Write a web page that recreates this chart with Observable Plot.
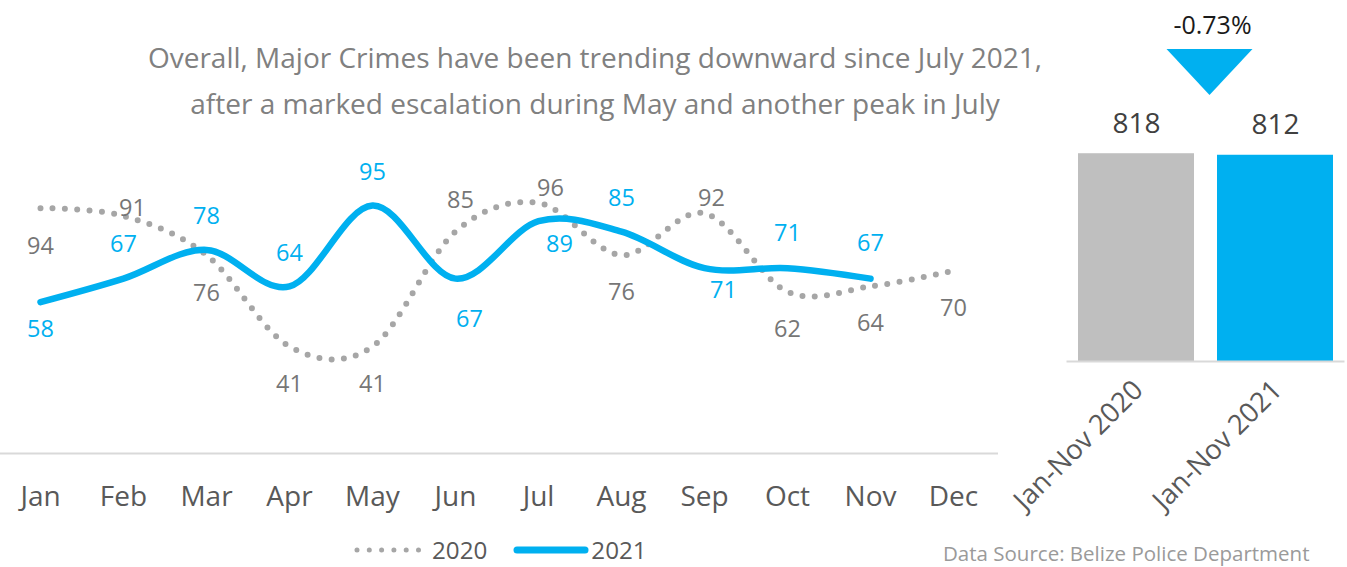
<!DOCTYPE html>
<html>
<head>
<meta charset="utf-8">
<script src="https://cdn.jsdelivr.net/npm/d3@7"></script>
<script src="https://cdn.jsdelivr.net/npm/@observablehq/plot@0.6"></script>
<style>
  body { margin: 0; background: #fff; }
  #wrap { position: relative; width: 1347px; height: 567px; overflow: hidden; font-family: "Open Sans", sans-serif; background:#fff; }
  .abs { position: absolute; }
  #title { left: 95px; width: 1000px; top: 34px; text-align: center; color: #808080; font-size: 28px; line-height: 46px; white-space: nowrap; }
  #legend { left: 352px; top: 537px; height: 26px; display: flex; align-items: center; color: #595959; font-size: 24.2px; line-height: 1; }
  #legend span { margin-right: 26px; }
  #source { left: 943px; top: 542px; color: #9a9a9a; font-size: 20.5px; line-height: 22px; white-space: nowrap; }
  #linechart { left: 0; top: 0; }
  #barchart { left: 1040px; top: 0; }
</style>
</head>
<body>
<div id="wrap">
  <div id="title" class="abs">Overall, Major Crimes have been trending downward since July 2021,<br>after a marked escalation during May and another peak in July</div>
  <div id="linechart" class="abs"></div>
  <div id="barchart" class="abs"></div>
  <div id="legend" class="abs"></div>
  <div id="source" class="abs">Data Source: Belize Police Department</div>
</div>
<script>
// ---- data ----
const months = ["Jan","Feb","Mar","Apr","May","Jun","Jul","Aug","Sep","Oct","Nov","Dec"];
const series2020 = [94, 91, 76, 41, 41, 85, 96, 76, 92, 62, 64, 70];
const series2021 = [58, 67, 78, 64, 95, 67, 89, 85, 71, 71, 67];
const seriesNames = ["2020", "2021"];
const barCategories = ["Jan-Nov 2020", "Jan-Nov 2021"];
const barTotals = [818, 812];

// label placement (styling)
const labelOffset2020 = [[0,38],[9,-8],[0,38],[0,38],[0,38],[5,-31],[12,-14],[0,37],[7,-15],[0,38],[0,37],[0,38]];
const labelOffset2021 = [[0,27],[0,-34],[0,-33],[0,-33],[0,-33],[14,41],[21,23],[0,-33],[19,22],[0,-35],[0,-35]];

const grey = "#a6a6a6", blue = "#00b0f0";
const font = "Open Sans";

const d2020 = series2020.map((v, i) => ({month: months[i], value: v, off: labelOffset2020[i]}));
const d2021 = series2021.map((v, i) => ({month: months[i], value: v, off: labelOffset2021[i]}));

const labelMarks = (data, fill) => data.map(d => Plot.text([d], {
  x: "month", y: "value", text: dd => String(dd.value),
  dx: d.off[0], dy: d.off[1], fill, fontSize: 23.5, fontFamily: font
}));

const line = Plot.plot({
  width: 998, height: 530,
  marginLeft: 0, marginRight: 0, marginTop: 0, marginBottom: 77,
  style: {fontFamily: font, background: "transparent", overflow: "visible"},
  x: {type: "point", domain: months, range: [38, 955], padding: 0},
  y: {domain: [0, 100], range: [453, 192], axis: null},
  marks: [
    Plot.ruleY([0], {stroke: "#d9d9d9", strokeWidth: 2}),
    Plot.axisX({tickSize: 0, tickPadding: 33, fontSize: 28, color: "#595959", label: null}),
    Plot.line(d2020, {x: "month", y: "value", curve: "cardinal", stroke: grey, strokeWidth: 6, strokeDasharray: "0 12.3", strokeLinecap: "round"}),
    Plot.line(d2021, {x: "month", y: "value", curve: "cardinal", stroke: blue, strokeWidth: 6.5, strokeLinecap: "round"}),
    ...labelMarks(d2020, "#767676"),
    ...labelMarks(d2021, blue)
  ]
});
document.getElementById("linechart").appendChild(line);

// ---- bar chart ----
const barData = barCategories.map((c, i) => ({cat: c, value: barTotals[i]}));
const pct = (barTotals[1] - barTotals[0]) / barTotals[0] * 100;

const bars = Plot.plot({
  width: 307, height: 567,
  marginLeft: 26.5, marginRight: 2.5, marginTop: 0, marginBottom: 206,
  style: {fontFamily: font, background: "transparent", overflow: "visible"},
  x: {type: "band", domain: barCategories, paddingInner: 0.166, paddingOuter: 0.083, axis: null},
  y: {domain: [0, 1000], range: [361, 107], axis: null},
  color: {domain: barCategories, range: ["#bfbfbf", blue]},
  marks: [
    Plot.barY(barData, {x: "cat", y: "value", fill: "cat"}),
    Plot.ruleY([0], {stroke: "#d9d9d9", strokeWidth: 2}),
    Plot.text(barData, {x: "cat", y: "value", text: d => String(d.value), dy: -30, fontSize: 28, fill: "#404040"}),
    Plot.text(barData, {x: "cat", y: () => 0, text: "cat", rotate: -45, textAnchor: "end", dx: 2, dy: 24, fontSize: 27.5, fill: "#595959"}),
    (index, scales) => {
      const x = scales.x;
      const bw = x.bandwidth ? x.bandwidth() : 0;
      const c1 = x(barCategories[0]) + bw / 2, c2 = x(barCategories[1]) + bw / 2;
      const cx = (c1 + c2) / 2 + 4;
      const g = d3.create("svg:g");
      g.append("path").attr("d", `M${cx - 43},49L${cx + 43},49L${cx},95Z`).attr("fill", blue);
      g.append("text").attr("x", cx + 3).attr("y", 25).attr("dy", "0.35em")
        .attr("text-anchor", "middle").attr("font-size", 25).attr("fill", "#1a1a1a")
        .text(pct.toFixed(2) + "%");
      return g.node();
    }
  ]
});
document.getElementById("barchart").appendChild(bars);

// ---- legend ----
const legend = document.getElementById("legend");
seriesNames.forEach((name, i) => {
  const ns = "http://www.w3.org/2000/svg";
  const svg = document.createElementNS(ns, "svg");
  svg.setAttribute("width", i === 0 ? 72 : 76);
  svg.setAttribute("height", 20);
  const l = document.createElementNS(ns, "line");
  l.setAttribute("x1", i === 0 ? 5 : 4); l.setAttribute("x2", i === 0 ? 68 : 72);
  l.setAttribute("y1", 10); l.setAttribute("y2", 10);
  l.setAttribute("stroke", i === 0 ? grey : blue);
  l.setAttribute("stroke-width", i === 0 ? 5 : 7);
  l.setAttribute("stroke-linecap", "round");
  if (i === 0) l.setAttribute("stroke-dasharray", "0 12.3");
  svg.appendChild(l);
  legend.appendChild(svg);
  const s = document.createElement("span");
  s.textContent = name;
  s.style.marginLeft = i === 0 ? "8px" : "2px";
  legend.appendChild(s);
});
</script>
</body>
</html>
